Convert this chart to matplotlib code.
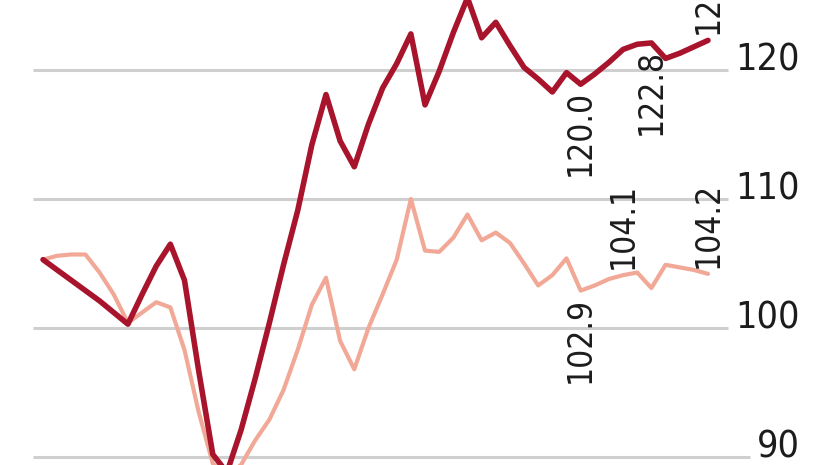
import matplotlib
matplotlib.use("Agg")
import matplotlib.pyplot as plt

# monthly index values
dark = [105.3, 104.5, 103.7, 102.9, 102.1, 101.2, 100.3, 102.6, 104.8, 106.5,
        103.7, 96.7, 90.2, 88.8, 92.1, 96.1, 100.4, 104.9, 109.1, 114.2,
        118.1, 114.5, 112.5, 115.8, 118.6, 120.5, 122.8, 117.3, 119.9, 122.9,
        125.6, 122.5, 123.7, 121.9, 120.2, 119.3, 118.3, 119.8, 118.9, 119.7,
        120.6, 121.6, 122.0, 122.1, 120.9, 121.3, 121.8, 122.3]
light = [105.3, 105.6, 105.7, 105.7, 104.3, 102.6, 100.4, 101.2, 102.0, 101.6,
         98.3, 93.5, 89.5, 88.6, 89.4, 91.3, 92.9, 95.2, 98.3, 101.8,
         103.9, 99.0, 96.8, 100.0, 102.6, 105.3, 110.0, 106.0, 105.9, 107.0,
         108.8, 106.8, 107.4, 106.6, 105.0, 103.3, 104.1, 105.4, 102.9, 103.3,
         103.8, 104.1, 104.3, 103.1, 104.9, 104.7, 104.5, 104.2]
months = list(range(len(dark)))

grid_vals = [90, 100, 110, 120]

# value labels: (month index, text, side of the line)
dark_labels = [(38, "120.0", "below"), (43, "122.8", "below"), (47, "122.1", "above")]
light_labels = [(38, "102.9", "below"), (41, "104.1", "above"), (47, "104.2", "above")]

DARK = "#a8142c"
LIGHT = "#f2a896"
TEXT = "#1c1c1c"

plt.rcParams["font.family"] = ["DejaVu Sans"]
plt.rcParams["font.stretch"] = "condensed"

fig = plt.figure(figsize=(8.26, 4.65), dpi=100)
ax = fig.add_axes([0, 0, 1, 1])
ax.set_xlim(-3.04, 55.34)
ax.set_ylim(89.38, 125.43)
ax.axis("off")

for v in grid_vals:
    end = 49.97 if v < 100 else 48.41
    ax.hlines(v, -0.71, end, color="#cfcfcf", lw=2.2, zorder=1)
    ax.text(53.5, v, str(v), ha="right", va="baseline", fontsize=27,
            color=TEXT)

ax.plot(months, light, color=LIGHT, lw=3.0, solid_joinstyle="round",
        solid_capstyle="round", zorder=2)
ax.plot(months, dark, color=DARK, lw=4.0, solid_joinstyle="round",
        solid_capstyle="round", zorder=3)


def label(series, items):
    for i, txt, where in items:
        if where == "below":
            off, va = -6, "top"
        else:
            off, va = 6, "bottom"
        ax.annotate(txt, (months[i], series[i]), xytext=(0, off),
                    textcoords="offset pixels", rotation=90, ha="center",
                    va=va, fontsize=24, color=TEXT, annotation_clip=False)


label(dark, dark_labels)
label(light, light_labels)

fig.savefig("out.png", dpi=100)
